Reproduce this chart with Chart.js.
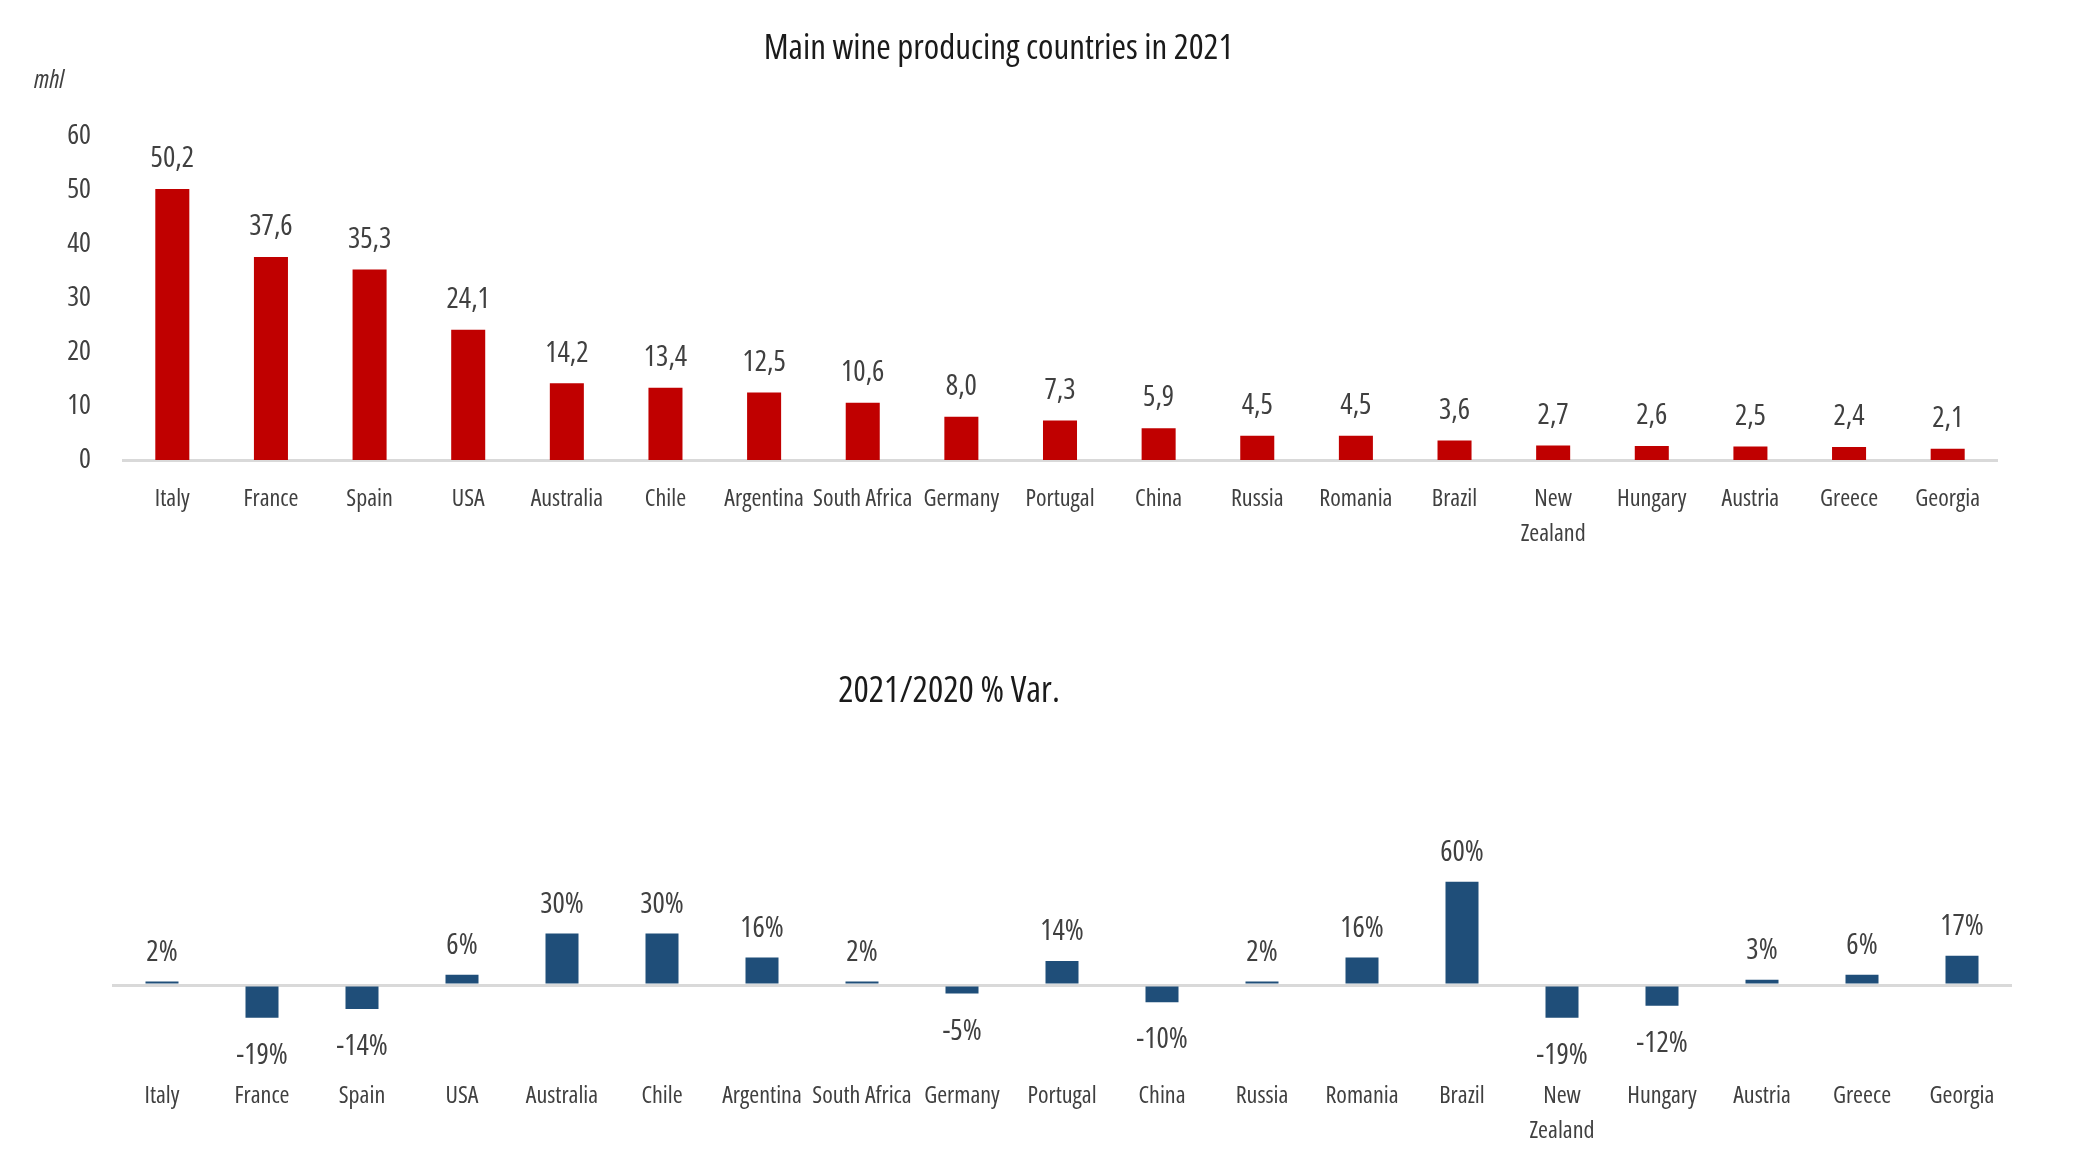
<!DOCTYPE html>
<html>
<head>
<meta charset="utf-8">
<title>Main wine producing countries in 2021</title>
<script src="https://cdn.jsdelivr.net/npm/chart.js@4.4.1/dist/chart.umd.min.js"></script>
<style>
  html, body { margin: 0; padding: 0; background: #fff; overflow: hidden; }
  #prodBox { position: absolute; left: 0; top: 0; width: 2073px; height: 560px; }
  #varBox { position: absolute; left: -114px; top: 600px; width: 2186px; height: 573px; }
</style>
</head>
<body>
<div id="prodBox"><canvas id="prodChart" width="2073" height="560"></canvas></div>
<div id="varBox"><canvas id="varChart" width="2186" height="573"></canvas></div>
<script>
// data
const countries = ["Italy", "France", "Spain", "USA", "Australia", "Chile", "Argentina", "South Africa",
  "Germany", "Portugal", "China", "Russia", "Romania", "Brazil", ["New", "Zealand"], "Hungary",
  "Austria", "Greece", "Georgia"];
const production = [50.2, 37.6, 35.3, 24.1, 14.2, 13.4, 12.5, 10.6, 8.0, 7.3, 5.9, 4.5, 4.5, 3.6, 2.7, 2.6, 2.5, 2.4, 2.1];
const variation = [2, -19, -14, 6, 30, 30, 16, 2, -5, 14, -10, 2, 16, 60, -19, -12, 3, 6, 17];
const prodTicks = { min: 0, max: 60, step: 10 };
const varRange = { min: -25, max: 70 };

// Open Sans has a width axis, "condensed" gets close to the narrow face of the original
const FAMILY = "'Open Sans', 'DejaVu Sans Condensed', sans-serif";
const STRETCH = "condensed";
const TEXT = "#404040";

// draws the number over (or under) each bar
function makeValueLabels(format, upOffset, downOffset) {
  return {
    id: "valueLabels",
    afterDatasetsDraw(chart) {
      const ctx = chart.ctx;
      const meta = chart.getDatasetMeta(0);
      const data = chart.data.datasets[0].data;
      ctx.save();
      ctx.font = STRETCH + " 29px " + FAMILY;
      ctx.fillStyle = TEXT;
      ctx.textAlign = "center";
      ctx.textBaseline = "middle";
      meta.data.forEach((bar, i) => {
        const v = data[i];
        const y = v >= 0 ? bar.y - upOffset : bar.y + downOffset;
        ctx.fillText(format(v), bar.x, y);
      });
      ctx.restore();
    }
  };
}

const unitLabel = {
  id: "unitLabel",
  afterDraw(chart) {
    const ctx = chart.ctx;
    ctx.save();
    ctx.font = "italic " + STRETCH + " 25px " + FAMILY;
    ctx.fillStyle = TEXT;
    ctx.textAlign = "center";
    ctx.textBaseline = "middle";
    ctx.fillText("mhl", 49, 81);
    ctx.restore();
  }
};

new Chart(document.getElementById("prodChart"), {
  type: "bar",
  data: {
    labels: countries,
    datasets: [{
      data: production,
      backgroundColor: "#C00000",
      categoryPercentage: 1,
      barPercentage: 0.345
    }]
  },
  options: {
    responsive: false,
    animation: false,
    layout: { padding: { left: 0, right: 76, top: 0, bottom: 0 } },
    plugins: {
      legend: { display: false },
      tooltip: { enabled: false },
      title: {
        display: true,
        text: "Main wine producing countries in 2021",
        color: "#1a1a1a",
        font: { family: FAMILY, size: 35, weight: STRETCH },
        padding: { top: 28, bottom: 66 }
      }
    },
    scales: {
      x: {
        grid: { display: false },
        border: { display: true, color: "#D9D9D9", width: 3 },
        ticks: {
          color: TEXT,
          font: { family: FAMILY, size: 24, weight: STRETCH, lineHeight: 1.45 },
          padding: 14,
          maxRotation: 0,
          autoSkip: false
        },
        afterFit(scale) { scale.height = 100; }
      },
      y: {
        min: prodTicks.min,
        max: prodTicks.max,
        grid: { display: false },
        border: { display: false },
        ticks: {
          stepSize: prodTicks.step,
          color: TEXT,
          font: { family: FAMILY, size: 28, weight: STRETCH },
          padding: 24
        },
        afterFit(scale) { scale.width = 123; }
      }
    }
  },
  plugins: [makeValueLabels(v => v.toFixed(1).replace(".", ","), 30, 30), unitLabel]
});

new Chart(document.getElementById("varChart"), {
  type: "bar",
  data: {
    labels: countries,
    datasets: [{
      data: variation,
      backgroundColor: "#1F4E79",
      categoryPercentage: 1,
      barPercentage: 0.33
    }]
  },
  options: {
    responsive: false,
    animation: false,
    layout: { padding: { left: 0, right: 60, top: 0, bottom: 0 } },
    plugins: {
      legend: { display: false },
      tooltip: { enabled: false },
      title: {
        display: true,
        text: "2021/2020 % Var.",
        color: "#1a1a1a",
        font: { family: FAMILY, size: 36, weight: STRETCH },
        padding: { top: 70, bottom: 151.4 }
      }
    },
    scales: {
      x: {
        grid: { display: false },
        border: { display: false },
        ticks: {
          color: TEXT,
          font: { family: FAMILY, size: 24, weight: STRETCH, lineHeight: 1.45 },
          padding: 43,
          maxRotation: 0,
          autoSkip: false
        },
        afterFit(scale) { scale.height = 145; }
      },
      y: {
        min: varRange.min,
        max: varRange.max,
        border: { display: false },
        grid: {
          drawTicks: false,
          lineWidth: 3,
          color: c => (c.tick && c.tick.value === 0 ? "#D9D9D9" : "rgba(0,0,0,0)")
        },
        ticks: { display: false, stepSize: 5 },
        afterFit(scale) { scale.width = 226; }
      }
    }
  },
  plugins: [makeValueLabels(v => v + "%", 29, 38)]
});
</script>
</body>
</html>
